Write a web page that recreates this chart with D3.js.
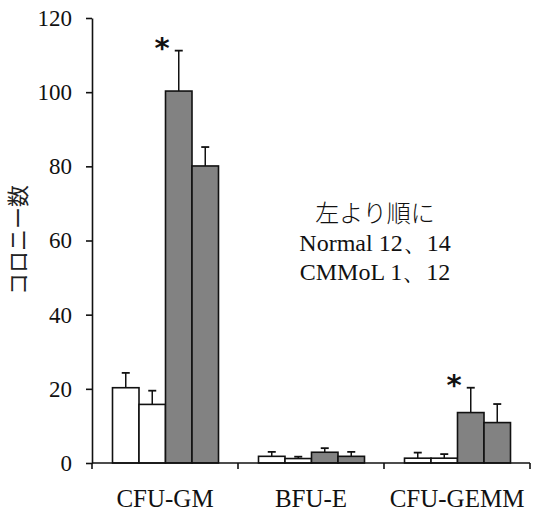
<!DOCTYPE html>
<html>
<head>
<meta charset="utf-8">
<script src="https://cdn.jsdelivr.net/npm/d3@7"></script>
<style>
  body { margin: 0; background: #fff; }
  svg text { font-family: "Liberation Serif", "DejaVu Serif", serif; fill: #111; }
</style>
</head>
<body>
<svg id="chart"></svg>
<script>
const w = 535;
const h = 519;

// categories and series (left to right: Normal 12, Normal 14, CMMoL 1, CMMoL 12)
const categories = ['CFU-GM', 'BFU-E', 'CFU-GEMM'];
const series = ['Normal 12', 'Normal 14', 'CMMoL 1', 'CMMoL 12'];
const seriesColors = ['#ffffff', '#ffffff', '#828282', '#828282'];

const means = [
  [20.3, 15.8, 100.3, 80.1],
  [1.8, 1.2, 2.9, 1.8],
  [1.3, 1.3, 13.6, 10.9],
];
const errors = [
  [4.0, 3.7, 10.9, 5.1],
  [1.2, 0.5, 1.1, 1.2],
  [1.5, 1.1, 6.7, 5.0],
];
// asterisk marks: [category index, series index]
const stars = [[0, 2], [2, 2]];

const yTicks = [0, 20, 40, 60, 80, 100, 120];
const noteLines = ['左より順に', 'Normal 12、14', 'CMMoL 1、12'];

const mLeft = 92, mRight = 530, mTop = 18, mBottom = 463;

const svg = d3.select('#chart').attr('width', w).attr('height', h);

const x0 = d3.scaleBand().domain(categories).range([mLeft, mRight]);
const x1 = d3.scaleBand().domain(series).range([20.5, x0.bandwidth() - 19.5]);
const y = d3.scaleLinear().domain([0, 120]).range([mBottom, mTop]);

////////////////////////
/////// BARS ///////////
////////////////////////

const groups = svg
  .selectAll('g.group')
  .data(categories)
  .enter()
  .append('g')
  .attr('class', 'group')
  .attr('transform', (d) => `translate(${x0(d)},0)`);

groups.each(function (cat, ci) {
  const g = d3.select(this);
  const rows = series.map((s, si) => ({ s, si, v: means[ci][si], e: errors[ci][si] }));

  // error bars (upper only)
  g.selectAll('line.err')
    .data(rows)
    .enter()
    .append('line')
    .attr('x1', (d) => x1(d.s) + x1.bandwidth() / 2)
    .attr('x2', (d) => x1(d.s) + x1.bandwidth() / 2)
    .attr('y1', (d) => y(d.v))
    .attr('y2', (d) => y(d.v + d.e))
    .attr('stroke', '#111')
    .attr('stroke-width', 1.5);

  g.selectAll('line.cap')
    .data(rows)
    .enter()
    .append('line')
    .attr('x1', (d) => x1(d.s) + x1.bandwidth() / 2 - 4)
    .attr('x2', (d) => x1(d.s) + x1.bandwidth() / 2 + 4)
    .attr('y1', (d) => y(d.v + d.e))
    .attr('y2', (d) => y(d.v + d.e))
    .attr('stroke', '#111')
    .attr('stroke-width', 1.8);

  g.selectAll('rect')
    .data(rows)
    .enter()
    .append('rect')
    .attr('x', (d) => x1(d.s))
    .attr('y', (d) => y(d.v))
    .attr('width', x1.bandwidth())
    .attr('height', (d) => y(0) - y(d.v))
    .attr('fill', (d) => seriesColors[d.si])
    .attr('stroke', '#111')
    .attr('stroke-width', 1.6);
});

// asterisks
svg
  .selectAll('text.star')
  .data(stars)
  .enter()
  .append('text')
  .attr('class', 'star')
  .attr('x', (d) => x0(categories[d[0]]) + x1(series[d[1]]) - 11)
  .attr('y', (d) => y(means[d[0]][d[1]] + errors[d[0]][d[1]]) + 7)
  .attr('font-size', 29)
  .attr('font-weight', 'bold')
  .style('font-family', '"DejaVu Sans", sans-serif')
  .text('*');

////////////////////////
/////// AXES ///////////
////////////////////////

const yAxis = svg
  .append('g')
  .attr('transform', `translate(${mLeft},0)`)
  .call(d3.axisLeft(y).tickValues(yTicks).tickSize(6).tickPadding(14).tickSizeOuter(0));
yAxis.select('.domain').attr('stroke', '#111').attr('stroke-width', 1.6);
yAxis.selectAll('.tick line').attr('stroke', '#111').attr('stroke-width', 1.6);
yAxis.selectAll('.tick text').attr('font-size', 23).style('font-family', '"Liberation Serif", serif').attr('fill', '#111');

// x axis line
svg
  .append('line')
  .attr('x1', mLeft)
  .attr('x2', mRight)
  .attr('y1', y(0))
  .attr('y2', y(0))
  .attr('stroke', '#111')
  .attr('stroke-width', 1.6);

const bounds = categories.map((c) => x0(c)).concat([mRight]);
svg
  .selectAll('line.xtick')
  .data(bounds)
  .enter()
  .append('line')
  .attr('x1', (d) => d)
  .attr('x2', (d) => d)
  .attr('y1', y(0))
  .attr('y2', y(0) + 6)
  .attr('stroke', '#111')
  .attr('stroke-width', 1.6);

svg
  .selectAll('text.xlabel')
  .data(categories)
  .enter()
  .append('text')
  .attr('x', (d) => x0(d) + x0.bandwidth() / 2)
  .attr('y', 507)
  .attr('text-anchor', 'middle')
  .attr('font-size', 25)
  .text((d) => d);

// y label
svg
  .append('text')
  .attr('transform', 'translate(26,240) rotate(-90)')
  .attr('text-anchor', 'middle')
  .attr('font-size', 22)
  .style('font-family', '"Noto Sans CJK JP", sans-serif')
  .style('font-weight', 400)
  .style('fill', '#222')
  .text('コロニー数');

// note
svg
  .selectAll('text.note')
  .data(noteLines)
  .enter()
  .append('text')
  .attr('x', 375)
  .attr('y', (d, i) => 222 + i * 29)
  .attr('text-anchor', 'middle')
  .attr('font-size', 24)
  .style('font-family', (d, i) => (i === 0 ? '"Noto Sans CJK JP", sans-serif' : '"Liberation Serif", serif'))
  .style('font-weight', (d, i) => (i === 0 ? 300 : 400))
  .text((d) => d);
</script>
</body>
</html>
